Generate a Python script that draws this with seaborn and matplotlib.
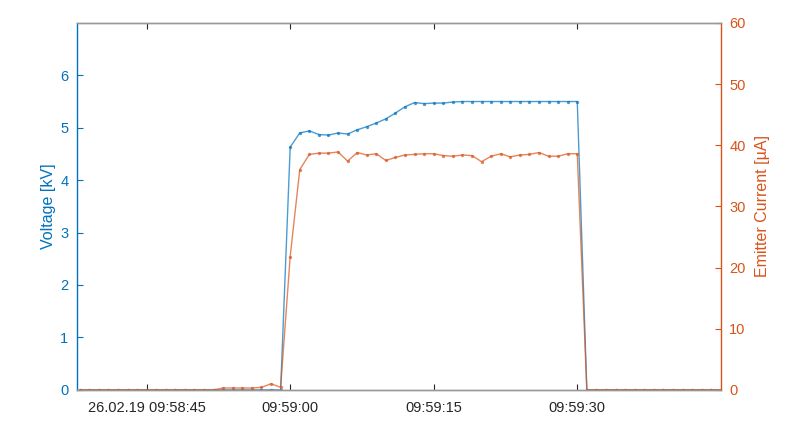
import pandas as pd
import numpy as np
import matplotlib
matplotlib.use("Agg")
import matplotlib.pyplot as plt
import seaborn as sns

# samples every second from 09:58:38 to 09:59:45
start = "2019-02-26 09:58:38"
n_samples = 68

voltage_kv = [
    0, 0, 0, 0, 0, 0, 0, 0, 0, 0, 0, 0, 0, 0, 0, 0, 0, 0, 0, 0, 0, 0,
    4.63, 4.90, 4.94, 4.87, 4.86, 4.90, 4.88, 4.96, 5.02, 5.09,
    5.17, 5.28, 5.40, 5.48, 5.46, 5.47, 5.47, 5.49, 5.50, 5.50,
    5.50, 5.50, 5.50, 5.50, 5.50, 5.50, 5.50, 5.50, 5.50, 5.50, 5.50,
    0, 0, 0, 0, 0, 0, 0, 0, 0, 0, 0, 0, 0, 0, 0,
]
current_ua = [
    0, 0, 0, 0, 0, 0, 0, 0, 0, 0, 0, 0, 0, 0, 0,
    0.3, 0.3, 0.3, 0.3, 0.4, 1.0, 0.4,
    21.8, 36.0, 38.5, 38.7, 38.7, 38.9, 37.4, 38.8, 38.4, 38.6,
    37.5, 38.0, 38.4, 38.5, 38.6, 38.6, 38.3, 38.2, 38.4, 38.3,
    37.3, 38.2, 38.6, 38.1, 38.4, 38.5, 38.8, 38.2, 38.2, 38.6, 38.6,
    0, 0, 0, 0, 0, 0, 0, 0, 0, 0, 0, 0, 0, 0, 0,
]

tick_times = ["2019-02-26 09:58:45", "2019-02-26 09:59:00",
              "2019-02-26 09:59:15", "2019-02-26 09:59:30"]
tick_labels = ["26.02.19 09:58:45", "09:59:00", "09:59:15", "09:59:30"]

df = pd.DataFrame({
    "time": pd.date_range(start, periods=n_samples, freq="1s"),
    "voltage": voltage_kv,
    "current": current_ua,
})

sns.set_style("white")
plt.rcParams["font.family"] = ["Liberation Sans", "DejaVu Sans"]
plt.rcParams["xtick.direction"] = "in"
plt.rcParams["ytick.direction"] = "in"

blue = "#0072BD"
orange = "#D95319"
gray = "#262626"

fig = plt.figure(figsize=(8, 4.4), dpi=100)
ax = fig.add_axes([0.096, 0.114, 0.805, 0.834])
ax2 = ax.twinx()

sns.lineplot(data=df, x="time", y="voltage", ax=ax, color=blue, lw=1.0,
             marker="o", markersize=2.4, markeredgewidth=0, alpha=0.7)
sns.lineplot(data=df, x="time", y="current", ax=ax2, color=orange, lw=1.0,
             marker="o", markersize=2.4, markeredgewidth=0, alpha=0.7)

x0 = pd.Timestamp(start) - pd.Timedelta(seconds=0.3)
x1 = pd.Timestamp(start) + pd.Timedelta(seconds=n_samples - 1)
ax.set_xlim(x0, x1)
ax.set_ylim(0, 7)
ax2.set_ylim(0, 60)

ax.set_xticks(pd.to_datetime(tick_times))
ax.set_xticklabels(tick_labels, fontsize=10.5, color=gray)
ax.tick_params(axis="x", top=True, bottom=True, length=4, color=gray, pad=8)
ax.set_yticks(range(0, 7))
ax.tick_params(axis="y", colors=blue, labelsize=10.5, length=4, pad=6)
ax2.set_yticks(range(0, 61, 10))
ax2.tick_params(axis="y", colors=orange, labelsize=10.5, length=4, pad=6)

ax.set_xlabel("")
ax.set_ylabel("Voltage [kV]", color=blue, fontsize=11.5, labelpad=3)
ax2.set_ylabel("Emitter Current [µA]", color=orange, fontsize=11.5, labelpad=7)

for a in (ax, ax2):
    a.spines["top"].set_color("#999999")
    a.spines["bottom"].set_color("#999999")
    a.spines["left"].set_color(blue)
    a.spines["right"].set_color(orange)
    for s in a.spines.values():
        s.set_linewidth(1.0)
ax.spines["right"].set_visible(False)
ax2.spines["left"].set_visible(False)

fig.savefig("out.png", dpi=100)
